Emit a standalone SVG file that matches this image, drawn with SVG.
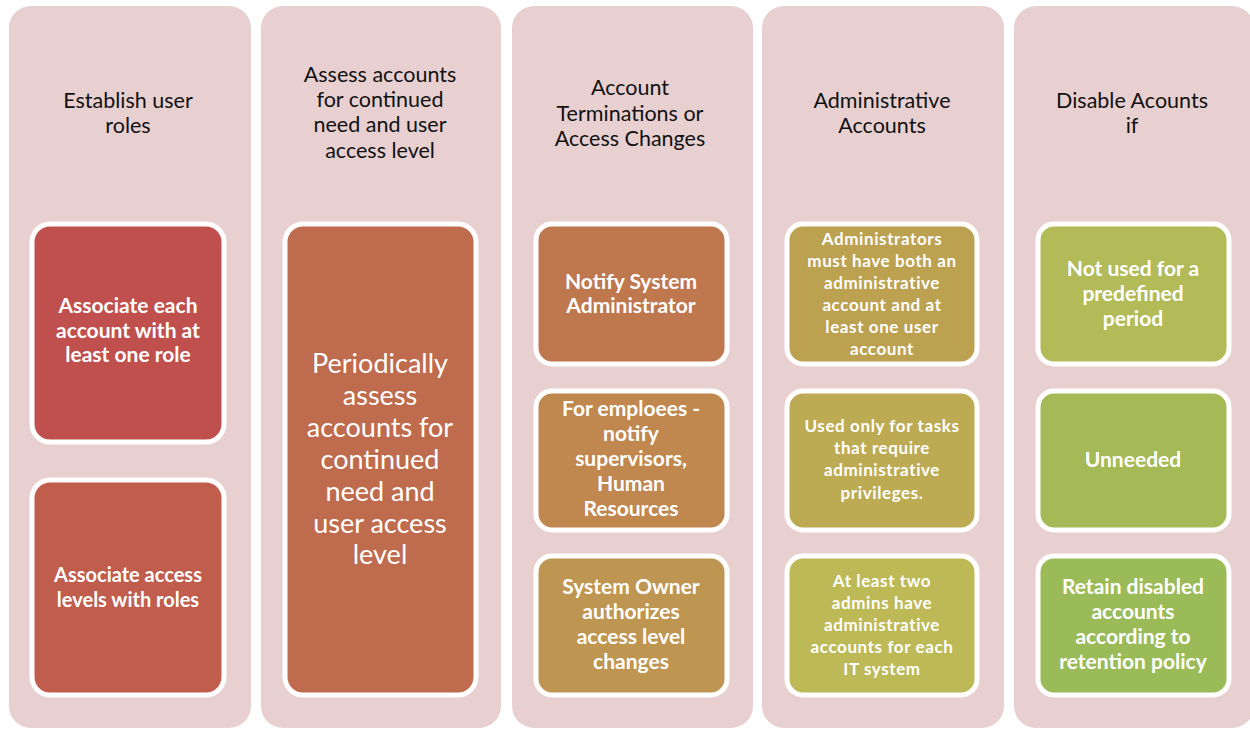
<svg xmlns="http://www.w3.org/2000/svg" width="1250" height="730" viewBox="0 0 1250 730">
<style>
.col{fill:#e8d0d1}
.box{stroke:#ffffff;stroke-width:5}
.hd{font-family:Lato,"Liberation Sans",sans-serif;font-size:21.5px;fill:#111;text-anchor:middle}
.t{font-family:Lato,"Liberation Sans",sans-serif;font-size:21px;font-weight:bold;fill:#fff;text-anchor:middle}
.s{font-family:Lato,"Liberation Sans",sans-serif;font-size:17px;font-weight:bold;letter-spacing:0.6px;fill:#fff;text-anchor:middle}
.b{font-family:Lato,"Liberation Sans",sans-serif;font-size:27px;fill:#fff;text-anchor:middle}
</style>
<rect width="1250" height="730" fill="#ffffff"/>

<g id="col1">
<rect class="col" x="9" y="6" width="242" height="722" rx="22"/>
<text class="hd" x="128" y="108">Establish user</text>
<text class="hd" x="128" y="133">roles</text>
<g id="c1b1">
<rect class="box" x="32" y="224" width="192" height="218" rx="18" fill="#c0504d"/>
<text class="t" x="128" y="313">Associate each</text>
<text class="t" x="128" y="338">account with at</text>
<text class="t" x="128" y="362">least one role</text>
</g>
<g id="c1b2">
<rect class="box" x="32" y="480" width="192" height="215" rx="18" fill="#c05d4d"/>
<text class="t" x="128" y="582" style="font-size:20px">Associate access</text>
<text class="t" x="128" y="607" style="font-size:20px">levels with roles</text>
</g>
</g>

<g id="col2">
<rect class="col" x="261" y="6" width="240" height="722" rx="22"/>
<text class="hd" x="380" y="82">Assess accounts</text>
<text class="hd" x="380" y="107">for continued</text>
<text class="hd" x="380" y="132">need and user</text>
<text class="hd" x="380" y="158">access level</text>
<g id="c2b1">
<rect class="box" x="285" y="224" width="191" height="471" rx="18" fill="#bf6b4e"/>
<text class="b" x="380" y="373">Periodically</text>
<text class="b" x="380" y="405">assess</text>
<text class="b" x="380" y="437">accounts for</text>
<text class="b" x="380" y="469">continued</text>
<text class="b" x="380" y="501">need and</text>
<text class="b" x="380" y="533">user access</text>
<text class="b" x="380" y="564">level</text>
</g>
</g>

<g id="col3">
<rect class="col" x="512" y="6" width="241" height="722" rx="22"/>
<text class="hd" x="630" y="95">Account</text>
<text class="hd" x="630" y="121">Terminations or</text>
<text class="hd" x="630" y="146">Access Changes</text>
<g id="c3b1">
<rect class="box" x="536" y="224" width="191" height="140" rx="16" fill="#bf774e"/>
<text class="t" x="631" y="289">Notify System</text>
<text class="t" x="631" y="313">Administrator</text>
</g>
<g id="c3b2">
<rect class="box" x="536" y="391" width="191" height="139" rx="16" fill="#c0874f"/>
<text class="t" x="631" y="416">For emploees -</text>
<text class="t" x="631" y="441">notify</text>
<text class="t" x="631" y="466">supervisors,</text>
<text class="t" x="631" y="491">Human</text>
<text class="t" x="631" y="516">Resources</text>
</g>
<g id="c3b3">
<rect class="box" x="536" y="556" width="191" height="139" rx="16" fill="#bf9552"/>
<text class="t" x="631" y="594">System Owner</text>
<text class="t" x="631" y="619">authorizes</text>
<text class="t" x="631" y="644">access level</text>
<text class="t" x="631" y="669">changes</text>
</g>
</g>

<g id="col4">
<rect class="col" x="762" y="6" width="242" height="722" rx="22"/>
<text class="hd" x="882" y="108">Administrative</text>
<text class="hd" x="882" y="133">Accounts</text>
<g id="c4b1">
<rect class="box" x="787" y="224" width="190" height="140" rx="16" fill="#bba150"/>
<text class="s" x="882" y="245">Administrators</text>
<text class="s" x="882" y="267">must have both an</text>
<text class="s" x="882" y="289">administrative</text>
<text class="s" x="882" y="311">account and at</text>
<text class="s" x="882" y="333">least one user</text>
<text class="s" x="882" y="355">account</text>
</g>
<g id="c4b2">
<rect class="box" x="787" y="391" width="190" height="139" rx="16" fill="#bcab52"/>
<text class="s" x="882" y="432">Used only for tasks</text>
<text class="s" x="882" y="454">that require</text>
<text class="s" x="882" y="476">administrative</text>
<text class="s" x="882" y="499">privileges.</text>
</g>
<g id="c4b3">
<rect class="box" x="787" y="556" width="190" height="139" rx="16" fill="#bdb957"/>
<text class="s" x="882" y="587">At least two</text>
<text class="s" x="882" y="609">admins have</text>
<text class="s" x="882" y="631">administrative</text>
<text class="s" x="882" y="653">accounts for each</text>
<text class="s" x="882" y="675">IT system</text>
</g>
</g>

<g id="col5">
<rect class="col" x="1014" y="6" width="240" height="722" rx="22"/>
<text class="hd" x="1132" y="108">Disable Acounts</text>
<text class="hd" x="1132" y="133">if</text>
<g id="c5b1">
<rect class="box" x="1038" y="224" width="191" height="140" rx="16" fill="#b2bb58"/>
<text class="t" x="1133" y="276">Not used for a</text>
<text class="t" x="1133" y="301">predefined</text>
<text class="t" x="1133" y="326">period</text>
</g>
<g id="c5b2">
<rect class="box" x="1038" y="391" width="191" height="139" rx="16" fill="#a6b957"/>
<text class="t" x="1133" y="467">Unneeded</text>
</g>
<g id="c5b3">
<rect class="box" x="1038" y="556" width="191" height="139" rx="16" fill="#9bbb59"/>
<text class="t" x="1133" y="594">Retain disabled</text>
<text class="t" x="1133" y="619">accounts</text>
<text class="t" x="1133" y="644">according to</text>
<text class="t" x="1133" y="669">retention policy</text>
</g>
</g>
</svg>
